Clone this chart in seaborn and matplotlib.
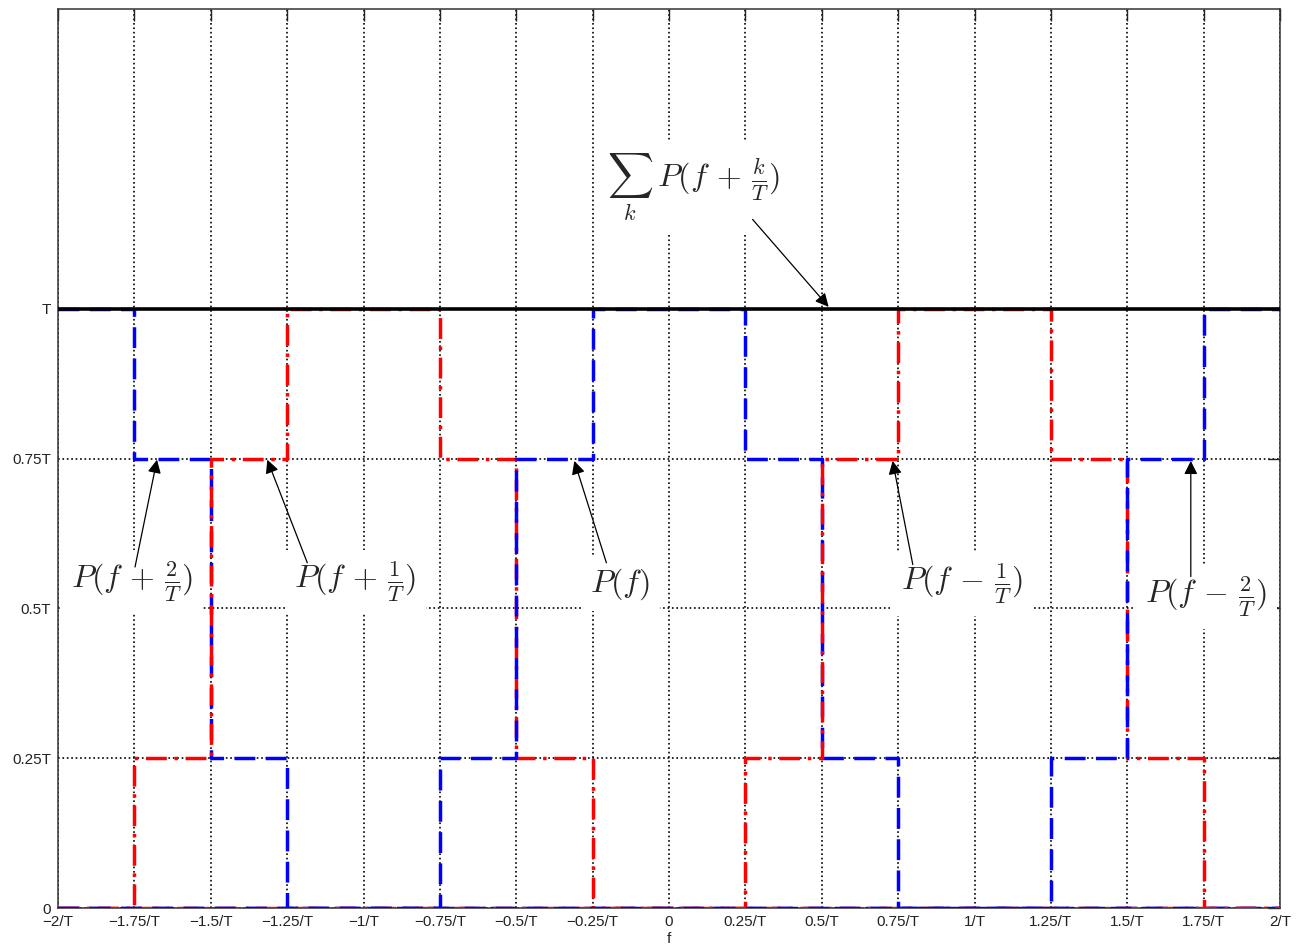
import matplotlib.pyplot as plt
import numpy as np
import pandas as pd
import seaborn as sns

# Pulse P(f): staircase levels (in units of T) between edges (in units of 1/T)
pulse_edges = [-0.75, -0.5, -0.25, 0.25, 0.5, 0.75]
pulse_levels = [0.25, 0.75, 1.0, 0.75, 0.25]

# Shifted copies P(f + k/T)
shifts = [2, 1, 0, -1, -2]
shift_labels = [r"$P(f\,+\,\frac{2}{T})$", r"$P(f\,+\,\frac{1}{T})$", r"$P(f)$",
                r"$P(f\,-\,\frac{1}{T})$", r"$P(f\,-\,\frac{2}{T})$"]
sum_label = r"$\sum_k\;P(f\,+\,\frac{k}{T})$"
sum_level = 1.0

f_min, f_max = -2.0, 2.0
x_ticks = [-2, -1.75, -1.5, -1.25, -1, -0.75, -0.5, -0.25, 0,
           0.25, 0.5, 0.75, 1, 1.25, 1.5, 1.75, 2]
x_tick_labels = ["\u22122/T", "\u22121.75/T", "\u22121.5/T", "\u22121.25/T", "\u22121/T",
                 "\u22120.75/T", "\u22120.5/T", "\u22120.25/T", "0",
                 "0.25/T", "0.5/T", "0.75/T", "1/T", "1.25/T", "1.5/T", "1.75/T", "2/T"]
y_ticks = [0, 0.25, 0.5, 0.75, 1.0]
y_tick_labels = ["0", "0.25T", "0.5T", "0.75T", "T"]

# label placement: (text centre), (arrow tail), (arrow tip)
label_pos = [(-1.758, 0.544), (-1.027, 0.544), (-0.159, 0.541), (0.961, 0.541), (1.758, 0.519)]
arrow_tail = [(-1.748, 0.569), (-1.184, 0.576), (-0.205, 0.576), (0.798, 0.573), (1.708, 0.553)]
arrow_tip = [(-1.676, 0.748), (-1.315, 0.748), (-0.310, 0.746), (0.732, 0.746), (1.708, 0.746)]
sum_pos = (0.080, 1.202)
sum_tail = (0.2735, 1.149)
sum_tip = (0.5225, 1.003)


def staircase(k):
    centre = -k
    pts = [f_min] + [centre + e for e in pulse_edges if f_min < centre + e < f_max] + [f_max]
    xs, ys = [], []
    for a, b in zip(pts[:-1], pts[1:]):
        m = (a + b) / 2 - centre
        i = np.searchsorted(pulse_edges, m) - 1
        lev = pulse_levels[i] if 0 <= i < len(pulse_levels) else 0.0
        xs += [a, b]
        ys += [lev, lev]
    return pd.DataFrame({"f": xs, "P": ys})


sns.set_theme(style="white")
plt.rcParams['font.family'] = ['Liberation Sans', 'DejaVu Sans']
plt.rcParams['mathtext.fontset'] = 'cm'

fig = plt.figure(figsize=(13.04, 9.49), dpi=100)
ax = fig.add_axes([0.0445, 0.0432, 0.9371, 0.9473])

for k in shifts:
    df = staircase(k)
    if k % 2 == 0:
        sns.lineplot(data=df, x="f", y="P", ax=ax, estimator=None, sort=False,
                     color="#0000ff", lw=2.5, linestyle=(0, (6, 3)), zorder=3)
    else:
        sns.lineplot(data=df, x="f", y="P", ax=ax, estimator=None, sort=False,
                     color="#ff0000", lw=2.5, linestyle=(0, (6, 2.2, 1, 2.2)), zorder=3)

sns.lineplot(x=[f_min, f_max], y=[sum_level, sum_level], ax=ax,
             color="black", lw=2.6, zorder=4)

ax.set_xlim(f_min, f_max)
ax.set_ylim(0, 1.5)
ax.set_xticks(x_ticks)
ax.set_xticklabels(x_tick_labels)
ax.set_yticks(y_ticks)
ax.set_yticklabels(y_tick_labels)
ax.tick_params(direction="in", top=True, right=True, length=8.5, width=1,
               labelsize=11, pad=5, colors="#222222")
ax.grid(True, linestyle=":", color="black", lw=1.2)
ax.set_xlabel("f", fontsize=11, labelpad=2)
ax.set_ylabel("")
for sp in ax.spines.values():
    sp.set_color("#333333")
    sp.set_linewidth(1.1)

box = dict(boxstyle="square,pad=0.3", fc="white", ec="none")
for lab, pos, tail, tip in zip(shift_labels, label_pos, arrow_tail, arrow_tip):
    ax.text(pos[0], pos[1], lab, fontsize=23, ha="center", va="center",
            bbox=box, zorder=2.8, clip_on=False)
    ax.annotate("", xy=tip, xytext=tail,
                arrowprops=dict(arrowstyle="-|>", color="black", lw=0.9,
                                mutation_scale=20, shrinkA=0, shrinkB=0), zorder=6)

ax.text(sum_pos[0], sum_pos[1], sum_label, fontsize=23, ha="center", va="center",
        bbox=box, zorder=2.8)
ax.annotate("", xy=sum_tip, xytext=sum_tail,
            arrowprops=dict(arrowstyle="-|>", color="black", lw=0.9,
                            mutation_scale=20, shrinkA=0, shrinkB=0), zorder=6)

fig.savefig("out.png", dpi=100)
